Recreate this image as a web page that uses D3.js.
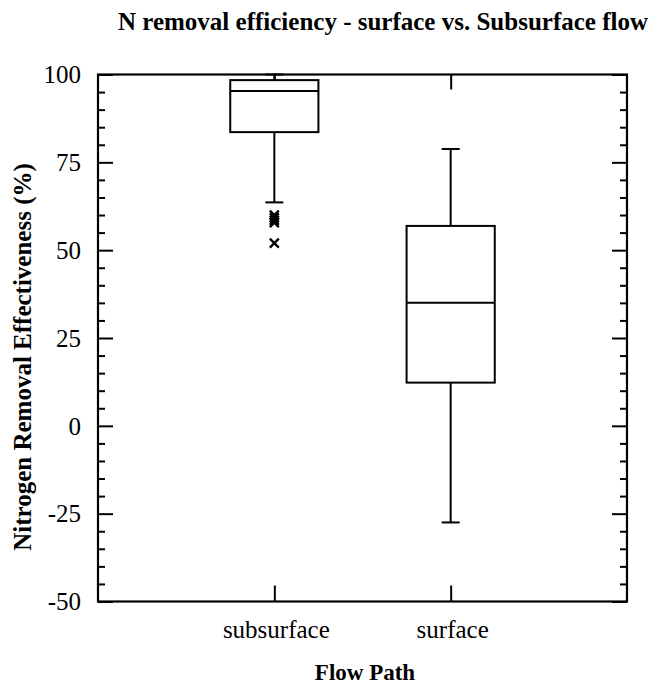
<!DOCTYPE html>
<html>
<head>
  <meta charset="utf-8">
  <script src="https://d3js.org/d3.v7.min.js"></script>
  <style>
    body { margin: 0; background: #fff; }
    text { font-family: "Liberation Serif", "Times New Roman", serif; fill: #000; }
  </style>
</head>
<body>
<script>
  // flow path groups and their box stats (%)
  var categories = ["subsurface", "surface"];
  var whiskerLow = [63.6, -27.5];
  var q1 = [83.6, 12.3];
  var median = [95.3, 35];
  var q3 = [98.4, 56.9];
  var whiskerHigh = [100, 78.8];
  var outliers = [[60, 59.2, 58.5, 57.8, 52], []];
  var yTicks = [-50, -25, 0, 25, 50, 75, 100];

  function draw() {
    var width = 657, height = 686;
    var pL = 98, pR = 627, pT = 74.5, pB = 601.5;

    var svg = d3.select("body").append("svg")
        .attr("width", width)
        .attr("height", height);

    var x = d3.scalePoint().domain(categories).range([pL, pR]).padding(1);
    var y = d3.scaleLinear().domain([-50, 100]).range([pB, pT]);
    var boxW = x.step() * 0.5;

    // left / right axes with major + minor ticks pointing inward
    var minor = d3.range(-50, 101, 5).filter(function(v) { return v % 25 != 0; });

    var yl = svg.append("g").attr("transform", "translate(" + pL + ",0)")
        .call(d3.axisRight(y).tickValues(yTicks).tickSize(15).tickFormat(""));
    yl.append("g").call(d3.axisRight(y).tickValues(minor).tickSize(7).tickFormat(""));

    var yr = svg.append("g").attr("transform", "translate(" + pR + ",0)")
        .call(d3.axisLeft(y).tickValues(yTicks).tickSize(15).tickFormat(""));
    yr.append("g").call(d3.axisLeft(y).tickValues(minor).tickSize(7).tickFormat(""));

    svg.append("g").attr("transform", "translate(0," + pB + ")")
        .call(d3.axisTop(x).tickSize(16).tickFormat(""));
    svg.append("g").attr("transform", "translate(0," + pT + ")")
        .call(d3.axisBottom(x).tickSize(15).tickFormat(""));

    svg.selectAll(".domain").remove();
    svg.selectAll(".tick line").attr("stroke", "#000").attr("stroke-width", 2);

    svg.append("rect")
        .attr("x", pL).attr("y", pT)
        .attr("width", pR - pL).attr("height", pB - pT)
        .attr("fill", "none").attr("stroke", "#000").attr("stroke-width", 2.2);

    // tick labels
    svg.selectAll(".ylab").data(yTicks).enter().append("text")
        .attr("x", pL - 17)
        .attr("y", function(d) { return y(d); })
        .attr("dy", "0.35em")
        .attr("text-anchor", "end")
        .style("font-size", "25px")
        .text(function(d) { return d; });

    svg.selectAll(".xlab").data(categories).enter().append("text")
        .attr("x", function(d) { return x(d) + 2; })
        .attr("y", 638)
        .attr("text-anchor", "middle")
        .style("font-size", "25px")
        .text(function(d) { return d; });

    // boxes
    var g = svg.selectAll(".box").data(categories).enter().append("g")
        .attr("fill", "none").attr("stroke", "#000").attr("stroke-width", 2);

    g.append("line")
        .attr("x1", function(d) { return x(d); }).attr("x2", function(d) { return x(d); })
        .attr("y1", function(d, i) { return y(whiskerHigh[i]); })
        .attr("y2", function(d, i) { return y(q3[i]); });
    g.append("line")
        .attr("x1", function(d) { return x(d); }).attr("x2", function(d) { return x(d); })
        .attr("y1", function(d, i) { return y(q1[i]); })
        .attr("y2", function(d, i) { return y(whiskerLow[i]); });
    [whiskerHigh, whiskerLow].forEach(function(arr) {
      g.append("line")
          .attr("x1", function(d) { return x(d) - 9; }).attr("x2", function(d) { return x(d) + 9; })
          .attr("y1", function(d, i) { return y(arr[i]); })
          .attr("y2", function(d, i) { return y(arr[i]); });
    });
    g.append("rect")
        .attr("x", function(d) { return x(d) - boxW / 2; })
        .attr("y", function(d, i) { return y(q3[i]); })
        .attr("width", boxW)
        .attr("height", function(d, i) { return y(q1[i]) - y(q3[i]); })
        .attr("fill", "#fff");
    g.append("line")
        .attr("x1", function(d) { return x(d) - boxW / 2; }).attr("x2", function(d) { return x(d) + boxW / 2; })
        .attr("y1", function(d, i) { return y(median[i]); })
        .attr("y2", function(d, i) { return y(median[i]); });

    // outlier crosses
    categories.forEach(function(c, i) {
      outliers[i].forEach(function(v) {
        var cx = x(c), cy = y(v), s = 4.5;
        svg.append("path")
            .attr("d", "M" + (cx - s) + "," + (cy - s) + "L" + (cx + s) + "," + (cy + s) +
                       "M" + (cx - s) + "," + (cy + s) + "L" + (cx + s) + "," + (cy - s))
            .attr("stroke", "#000").attr("stroke-width", 2.4);
      });
    });

    // titles
    svg.append("text")
        .attr("x", 383).attr("y", 30)
        .attr("text-anchor", "middle")
        .style("font-size", "25px").style("font-weight", "bold")
        .text("N removal efficiency - surface vs. Subsurface flow");

    svg.append("text")
        .attr("x", 365).attr("y", 680)
        .attr("text-anchor", "middle")
        .style("font-size", "23px").style("font-weight", "bold")
        .text("Flow Path");

    svg.append("text")
        .attr("transform", "translate(31,357) rotate(-90)")
        .attr("text-anchor", "middle")
        .style("font-size", "25px").style("font-weight", "bold")
        .text("Nitrogen Removal Effectiveness (%)");
  }

  draw();
</script>
</body>
</html>
